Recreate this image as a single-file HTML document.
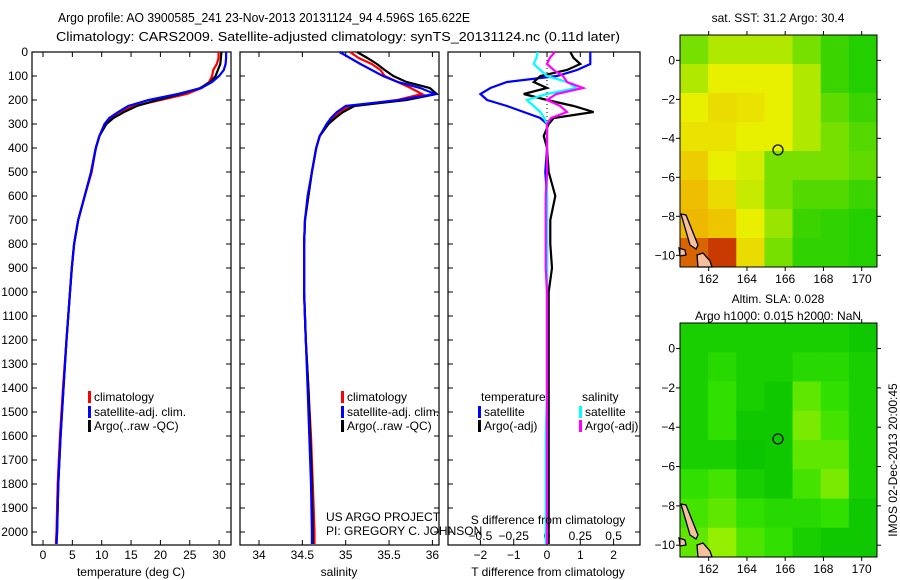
<!DOCTYPE html>
<html><head><meta charset="utf-8">
<style>
html,body{margin:0;padding:0;background:#fff;}
svg{display:block;font-family:"Liberation Sans",sans-serif;font-size:12px;}
</style></head>
<body>
<svg id="c" width="900" height="580" viewBox="0 0 900 580" xmlns="http://www.w3.org/2000/svg">
<text x="58" y="22" font-size="13" textLength="412" lengthAdjust="spacingAndGlyphs">Argo profile: AO 3900585_241 23-Nov-2013 20131124_94 4.596S 165.622E</text>
<text x="56" y="41" font-size="13" textLength="564" lengthAdjust="spacingAndGlyphs">Climatology: CARS2009. Satellite-adjusted climatology: synTS_20131124.nc (0.11d later)</text>
<g id="g"></g>
</svg>
<script>
const depths=[0,25,50,75,100,125,150,175,200,225,250,275,300,350,400,500,600,700,800,900,1000,1200,1400,1600,1800,2000,2050];
const argoT=[30.4,30.3,30.2,29.8,29.4,28.5,26.8,23.5,19.5,16.0,13.8,12.0,10.8,9.6,9.0,8.2,7.1,6.0,5.3,4.9,4.6,4.0,3.5,3.0,2.6,2.4,2.3];
const climT=[29.9,29.9,29.6,29.0,28.8,28.3,27.0,24.5,20.0,15.5,13.0,11.5,10.5,9.6,9.0,8.3,7.1,6.0,5.3,4.9,4.6,4.0,3.4,2.9,2.5,2.3,2.2];
const satT=[31.2,31.2,31.1,30.8,30.0,28.8,27.0,23.0,18.0,14.5,12.8,11.3,10.5,9.6,9.0,8.2,7.1,6.0,5.3,4.9,4.6,4.0,3.5,3.0,2.6,2.4,2.3];
const argoS=[35.13,35.25,35.36,35.45,35.55,35.7,35.97,36.05,35.7,35.1,34.97,34.88,34.8,34.7,34.66,34.61,34.57,34.53,34.52,34.52,34.52,34.54,34.57,34.59,34.61,34.62,34.62];
const climS=[35.05,35.15,35.3,35.4,35.45,35.6,35.75,35.88,35.6,35.05,34.93,34.85,34.8,34.7,34.66,34.61,34.57,34.53,34.52,34.52,34.52,34.54,34.57,34.6,34.62,34.64,34.64];
const satS=[34.93,35.05,35.17,35.3,35.43,35.6,35.86,36.03,35.62,35.0,34.9,34.83,34.78,34.7,34.66,34.61,34.56,34.53,34.52,34.52,34.52,34.54,34.56,34.58,34.6,34.61,34.61];
const dSatT=[1.3,1.3,1.3,0.9,0.3,-1.2,-1.7,-2.0,-1.8,-1.2,-0.7,-0.2,0.0,0,0,-0.05,0,0,0,0,0,0,0,0,0,0,0];
const dArgoT=[0.7,0.8,1.0,0.6,-0.2,-0.4,0,-0.7,0,0.8,1.4,0.2,0.05,-0.1,0.0,0.05,0.25,0.1,0.1,0.15,0.05,0.05,0.05,0.05,0.05,0.05,0.05];
const dSatS=[-0.07,-0.08,-0.1,-0.05,0,0.15,0.22,0,-0.15,-0.1,-0.05,-0.02,0,0,0,0,0,0,0,0,0,0,0,-0.01,-0.01,-0.01,-0.01];
const dArgoS=[0.06,0.02,0.0,0.05,0.12,0.15,0.27,0.07,0.0,0.1,0.15,0.03,0.0,0,0,0,-0.01,-0.01,-0.01,-0.01,0,0,0,0,0,0,0];
const depthTicks=[0,100,200,300,400,500,600,700,800,900,1000,1100,1200,1300,1400,1500,1600,1700,1800,1900,2000];
const tTicks=[0,5,10,15,20,25,30];
const sTicks=[34,34.5,35,35.5,36];
const dTTicks=[-2,-1,0,1,2];
const dSTicks=[-0.5,-0.25,0,0.25,0.5];
const dSLabels=["\u22120.5","\u22120.25","0","0.25","0.5"];
const lonTicks=[162,164,166,168,170];
const latTicks=[0,-2,-4,-6,-8,-10];
const sstGrid=[[1,1.5,1.5,1.5,1,0.5,0.3],[1.5,2,2,2,1.5,0.5,0.3],[2,2.3,2.2,2,1.5,0.8,0.5],[2.2,2.2,2,2,1.5,1,0.7],[2.5,2,1.8,1,1,1,0.8],[2.7,2.3,1.7,1,0.7,0.7,0.5],[2.8,2.6,2,1.3,0.5,0.4,0.3],[3.5,3.8,2.3,1,0.4,0.4,0.3]];
const slaGrid=[[0.5,0.5,0.5,0.5,0.5,0.5,0.3],[0.5,0.8,0.5,0.5,0.8,0.8,0.5],[0.5,1,0.5,0.3,1.5,1,0.5],[0.5,1,0.3,0.3,1.8,1.2,0.5],[0.5,0.5,0.2,0.3,1.5,1.5,0.5],[1,1.2,0.5,0.3,1.2,1.8,0.5],[1.2,1.5,1,0.8,0.8,1,0.3],[1.5,2.2,1.3,1,0.5,0.3,0.3]];
const floatLon=165.622, floatLat=-4.596;

const NS="http://www.w3.org/2000/svg";
const G=document.getElementById('g');
function mk(t,a,p){const e=document.createElementNS(NS,t);for(const k in a)e.setAttribute(k,a[k]);(p||G).appendChild(e);return e;}
const Y=d=>52+d*0.24;
const PT=v=>43+v*5.87, PS=v=>259+(v-34)*86.7, PD=v=>547+v*33.3, PDS=v=>547+v*133.2;
const TOP=52,BOT=545;

function panel(x0,x1,name){
  const r=mk('rect',{x:x0,y:TOP,width:x1-x0,height:BOT-TOP,fill:'none',stroke:'#000','stroke-width':1.2});
  
  
  depthTicks.forEach(d=>{mk('line',{x1:x0,x2:x0+5,y1:Y(d),y2:Y(d),stroke:'#000'});mk('line',{x1:x1,x2:x1-5,y1:Y(d),y2:Y(d),stroke:'#000'});});
}
function xticks(ticks,f,labels,ly,name){
  ticks.forEach((v,i)=>{const x=f(v);mk('line',{x1:x,x2:x,y1:BOT,y2:BOT-5,stroke:'#000'});mk('line',{x1:x,x2:x,y1:TOP,y2:TOP+5,stroke:'#000'});
    const t=mk('text',{x:x,y:ly,'text-anchor':'middle'});t.textContent=labels?labels[i]:String(v);
    
    });
}
function line(vals,f,col,name,w){
  const pts=vals.map((v,i)=>f(v).toFixed(1)+','+Y(depths[i]).toFixed(1)).join(' ');
  const p=mk('polyline',{points:pts,fill:'none',stroke:col,'stroke-width':w||2.2,'stroke-linejoin':'miter'});
  
  
}
function txt(x,y,s,name,anchor){const t=mk('text',{x:x,y:y,'text-anchor':anchor||'start'});t.textContent=s;
  
  return t;}
function legend(x,y,col,s,name){mk('rect',{x:x-3,y:y-10,width:3,height:12,fill:col});txt(x+3,y,s,name);}

panel(32,231,'temperature-panel');
depthTicks.forEach(d=>txt(28,Y(d)+4,String(d),'depth-tick-label','end'));
xticks(tTicks,PT,null,559,'temperature-tick-label');
line(climT,PT,'#f00','climatology-temperature-line');
line(argoT,PT,'#000','argo-temperature-line');
line(satT,PT,'#00f','satellite-temperature-line');
txt(131,576,'temperature (deg C)','temperature-axis-title','middle');
legend(91,401,'#f00','climatology','legend-climatology');
legend(91,416,'#00f','satellite-adj. clim.','legend-satellite');
legend(91,430,'#000','Argo(..raw -QC)','legend-argo');

panel(240,439,'salinity-panel');
xticks(sTicks,PS,null,559,'salinity-tick-label');
line(climS,PS,'#f00','climatology-salinity-line');
line(argoS,PS,'#000','argo-salinity-line');
line(satS,PS,'#00f','satellite-salinity-line');
txt(339,576,'salinity','salinity-axis-title','middle');
legend(344,401,'#f00','climatology','legend-climatology-2');
legend(344,416,'#00f','satellite-adj. clim.','legend-satellite-2');
legend(344,430,'#000','Argo(..raw -QC)','legend-argo-2');
txt(326,521,'US ARGO PROJECT','credit-project');
txt(326,535,'PI: GREGORY C. JOHNSON','credit-pi');

panel(448,640,'difference-panel');
xticks(dTTicks,PD,["\u22122","\u22121","0","1","2"],559,'t-difference-tick-label');
dSTicks.forEach((v,i)=>txt(PDS(v),540,dSLabels[i],'s-difference-tick-label','middle'));
mk('line',{x1:547,x2:547,y1:TOP,y2:Y(300),stroke:'#000','stroke-dasharray':'1,3'});
line(dSatT,PD,'#00f','satellite-t-difference-line');
line(dArgoT,PD,'#000','argo-t-difference-line');
line(dSatS,PDS,'#0ff','satellite-s-difference-line');
line(dArgoS,PDS,'#f0f','argo-s-difference-line');
txt(548,524,'S difference from climatology','s-difference-axis-title','middle');
txt(548,576,'T difference from climatology','t-difference-axis-title','middle');
txt(481,401,'temperature','legend-temperature-header');
legend(481,416,'#00f','satellite','legend-t-satellite');
legend(481,430,'#000','Argo(-adj)','legend-t-argo');
txt(582,401,'salinity','legend-salinity-header');
legend(582,416,'#0ff','satellite','legend-s-satellite');
legend(582,430,'#f0f','Argo(-adj)','legend-s-argo');

const LON0=160.5,LON1=170.8,LAT0=1.3,LAT1=-10.6;
function sstCol(v){const st=[[0,[0,200,0]],[1,[120,224,0]],[2,[232,240,0]],[3,[240,170,0]],[4,[190,30,0]]];return ramp(st,v);}
function slaCol(v){const st=[[0,[0,190,0]],[1,[50,224,0]],[2,[140,238,0]],[3,[180,245,0]]];return ramp(st,v);}
function ramp(st,v){for(let i=0;i<st.length-1;i++){if(v<=st[i+1][0]){const f=(v-st[i][0])/(st[i+1][0]-st[i][0]);const a=st[i][1],b=st[i+1][1];return 'rgb('+a.map((c,k)=>Math.round(c+(b[k]-c)*f)).join(',')+')';}}return 'rgb('+st[st.length-1][1].join(',')+')';}
function map(x0,y0,x1,y1,grid,colf,name){
  const mx=l=>x0+(l-LON0)/(LON1-LON0)*(x1-x0);
  const my=l=>y0+(LAT0-l)/(LAT0-LAT1)*(y1-y0);
  const rows=grid.length,cols=grid[0].length,cw=(x1-x0)/cols,ch=(y1-y0)/rows;
  grid.forEach((row,r)=>row.forEach((v,c)=>{const e=mk('rect',{x:x0+c*cw,y:y0+r*ch,width:cw+0.5,height:ch+0.5,fill:colf(v)});
    
    }));
  const land=[[[681,y1-53],[686,y1-52],[698,y1-22],[696,y1-18],[690,y1-22]],[[679,y1-19],[685,y1-17],[686,y1-12],[680,y1-11]],[[697,y1-12],[703,y1-14],[710,y1-6],[712,y1],[698,y1]]];
  land.forEach(pg=>mk('polygon',{points:pg.map(p=>p.join(',')).join(' '),fill:'#f4c0a0',stroke:'#000','stroke-width':1.3}));
  const b=mk('rect',{x:x0,y:y0,width:x1-x0,height:y1-y0,fill:'none',stroke:'#000'});
  
  
  lonTicks.forEach(l=>{const x=mx(l);mk('line',{x1:x,x2:x,y1:y0,y2:y0-4,stroke:'#000'});mk('line',{x1:x,x2:x,y1:y1,y2:y1+4,stroke:'#000'});txt(x,y1+16,String(l),name+'-lon-label','middle');});
  latTicks.forEach(l=>{const y=my(l);mk('line',{x1:x0,x2:x0-4,y1:y,y2:y,stroke:'#000'});mk('line',{x1:x1,x2:x1+4,y1:y,y2:y,stroke:'#000'});txt(x0-5,y+4,String(l).replace('-','\u2212'),name+'-lat-label','end');});
  const c=mk('circle',{cx:mx(floatLon),cy:my(floatLat),r:5,fill:'none',stroke:'#000','stroke-width':1.2});
  
  
}
map(680,35,877,267,sstGrid,sstCol,'sst-map');
txt(778,22,'sat. SST: 31.2 Argo: 30.4','sst-map-title','middle');
map(680,323,877,557,slaGrid,slaCol,'sla-map');
txt(778,303,'Altim. SLA: 0.028','sla-map-title','middle');
txt(778,320,'Argo h1000: 0.015 h2000: NaN','sla-map-subtitle','middle');
const ts=txt(0,0,'IMOS 02-Dec-2013 20:00:45','timestamp','middle');
ts.setAttribute('transform','translate(897,460) rotate(-90)');
</script>
</body></html>
